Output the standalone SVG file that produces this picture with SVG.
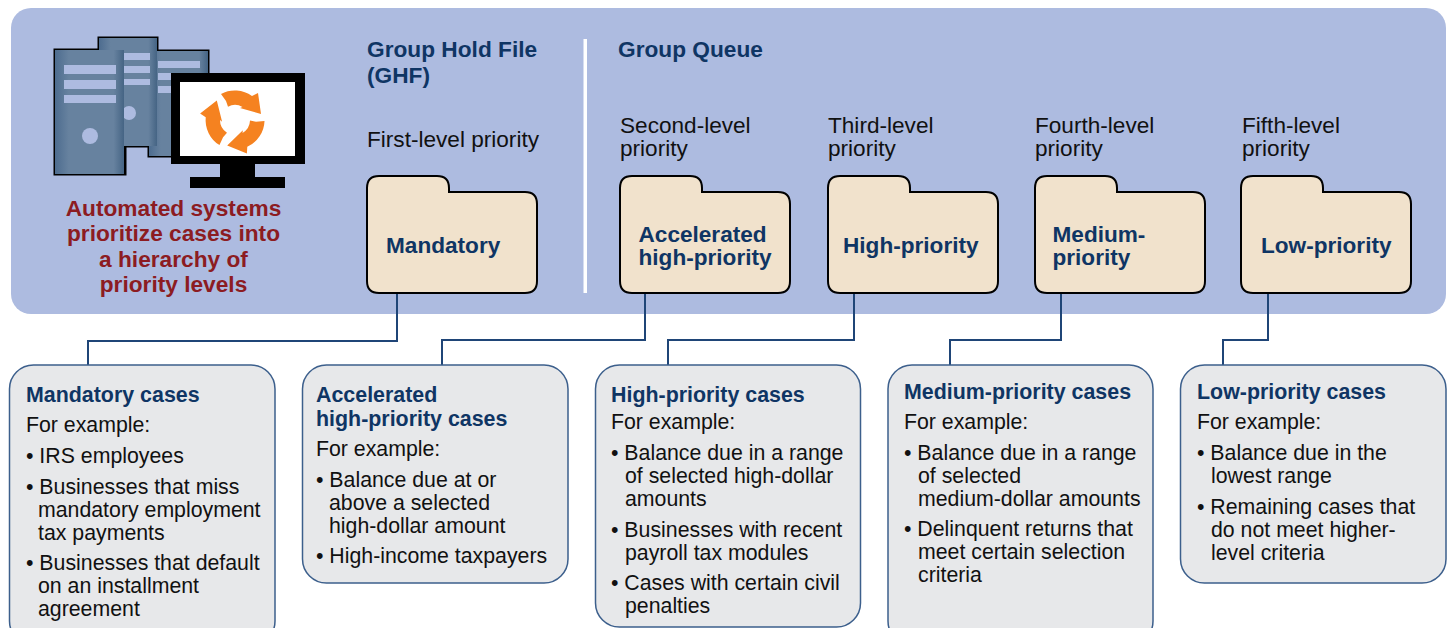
<svg xmlns="http://www.w3.org/2000/svg" width="1448" height="628" viewBox="0 0 1448 628">
<style>
text{font-family:"Liberation Sans",Arial,sans-serif;font-size:21.300px;fill:#111}
.l{font-size:22.600px}
.g{font-weight:700;fill:#0f3564;font-size:22.700px}
.h{font-weight:700;fill:#0f3564;font-size:21.400px}
.f{font-weight:700;fill:#0f3564;font-size:22.600px}
.r{font-weight:700;fill:#8c1c22;font-size:22.700px}
.folder{fill:#f1e2cc;stroke:#000;stroke-width:2}
.box{fill:#e7e8ea;stroke:#3c5f8c;stroke-width:1.500}
.conn{fill:none;stroke:#1f4577;stroke-width:2}
.ol{stroke:#000;stroke-width:3;fill:#000}
.srv{fill:url(#sg)}
.bar{fill:#adbbe0}
</style>
<defs>
<linearGradient id="sg"><stop offset="0" stop-color="#4d6c8f"/><stop offset=".2" stop-color="#67829f"/><stop offset=".85" stop-color="#67829f"/><stop offset="1" stop-color="#456484"/></linearGradient>
<path id="fd" d="M12 0H70Q82 0 82 12V16H158Q170 16 170 28V105Q170 117 158 117H12Q0 117 0 105V12Q0 0 12 0Z"/>
<path id="arw" d="M-14-26A29.500 29.500 0 0 1 17-24L23-27 26-6 5-12 7.500-13A15 15 0 0 0-7-13.300L-9-19Z" fill="#f58220"/>
</defs>
<rect x="11" y="8" width="1435" height="306" rx="20" fill="#adbbe0"/>
<rect x="583.500" y="39" width="3.500" height="254" fill="#fff"/>
<g id="icon">
<rect class="ol" x="149" y="51" width="59" height="105"/>
<rect class="ol" x="99" y="38" width="58" height="108"/>
<rect class="ol" x="55" y="50" width="70" height="124"/>
<rect class="srv" x="149" y="51" width="59" height="105"/>
<rect class="bar" x="158" y="61" width="42" height="7"/><rect class="bar" x="158" y="73" width="20" height="7"/><rect class="bar" x="158" y="86" width="20" height="7"/>
<rect class="srv" x="99" y="38" width="58" height="108"/>
<rect class="bar" x="124" y="53" width="26" height="7"/><rect class="bar" x="124" y="66" width="26" height="7"/><rect class="bar" x="124" y="79" width="26" height="6"/><circle class="bar" cx="129" cy="113" r="7"/>
<rect class="srv" x="55" y="50" width="69" height="124"/>
<rect class="bar" x="64" y="65" width="52" height="9"/><rect class="bar" x="64" y="80" width="52" height="9"/><rect class="bar" x="64" y="95" width="52" height="8"/><circle class="bar" cx="90" cy="136" r="8"/>
<rect x="171" y="73" width="134" height="91" fill="#000"/><rect x="180" y="82" width="115" height="74" fill="#fff"/>
<rect x="220" y="164" width="35" height="13" fill="#000"/><rect x="190" y="177" width="95" height="11" fill="#000"/>
<g transform="translate(235 120)"><use href="#arw"/><use href="#arw" transform="rotate(120)"/><use href="#arw" transform="rotate(240)"/></g>
</g>
<text class="r" text-anchor="middle"><tspan x="173.500" y="216">Automated systems</tspan><tspan x="173.500" y="241">prioritize cases into</tspan><tspan x="173.500" y="267">a hierarchy of</tspan><tspan x="173.500" y="292">priority levels</tspan></text>
<text class="g" x="367" y="57">Group Hold File</text><text class="g" x="367" y="83">(GHF)</text>
<text class="g" x="618" y="57">Group Queue</text>
<text class="l" x="367" y="147">First-level priority</text>
<text class="l" x="620" y="133">Second-level</text><text class="l" x="620" y="156">priority</text>
<text class="l" x="828" y="133">Third-level</text><text class="l" x="828" y="156">priority</text>
<text class="l" x="1035" y="133">Fourth-level</text><text class="l" x="1035" y="156">priority</text>
<text class="l" x="1242" y="133">Fifth-level</text><text class="l" x="1242" y="156">priority</text>
<g id="connectors">
<path class="conn" d="M397 293V341H88V365"/>
<path class="conn" d="M645 293V340H442V365"/>
<path class="conn" d="M854 293V340H668V365"/>
<path class="conn" d="M1061 293V340H950V365"/>
<path class="conn" d="M1268 293V340H1223V365"/>
</g>
<g id="folder-mandatory"><use href="#fd" class="folder" x="367" y="176"/><text class="f" x="386" y="253">Mandatory</text></g>
<g id="folder-accelerated"><use href="#fd" class="folder" x="620" y="176"/><text class="f" x="638.500" y="242">Accelerated</text><text class="f" x="638.500" y="265">high-priority</text></g>
<g id="folder-high"><use href="#fd" class="folder" x="828" y="176"/><text class="f" x="843" y="253">High-priority</text></g>
<g id="folder-medium"><use href="#fd" class="folder" x="1035" y="176"/><text class="f" x="1052.500" y="242">Medium-</text><text class="f" x="1052.500" y="265">priority</text></g>
<g id="folder-low"><use href="#fd" class="folder" x="1241" y="176"/><text class="f" x="1261" y="253">Low-priority</text></g>
<g id="box-mandatory"><rect class="box" x="9.500" y="365" width="265.500" height="280" rx="24"/>
<text class="h" x="26" y="402">Mandatory cases</text>
<text x="26" y="432">For example:</text>
<text x="26" y="463">• IRS employees</text>
<text x="26" y="494">• Businesses that miss</text><text x="38" y="517">mandatory employment</text><text x="38" y="540">tax payments</text>
<text x="26" y="570">• Businesses that default</text><text x="38" y="593">on an installment</text><text x="38" y="616">agreement</text></g>
<g id="box-accelerated"><rect class="box" x="302.500" y="365" width="265.500" height="218" rx="24"/>
<text class="h" x="316" y="402">Accelerated</text><text class="h" x="316" y="426">high-priority cases</text>
<text x="316" y="456">For example:</text>
<text x="316" y="487">• Balance due at or</text><text x="329" y="510">above a selected</text><text x="329" y="533">high-dollar amount</text>
<text x="316" y="563">• High-income taxpayers</text></g>
<g id="box-high"><rect class="box" x="595.500" y="365" width="265" height="262" rx="24"/>
<text class="h" x="611" y="402">High-priority cases</text>
<text x="611" y="429">For example:</text>
<text x="611" y="460">• Balance due in a range</text><text x="625" y="483">of selected high-dollar</text><text x="625" y="506">amounts</text>
<text x="611" y="537">• Businesses with recent</text><text x="625" y="560">payroll tax modules</text>
<text x="611" y="590">• Cases with certain civil</text><text x="625" y="613">penalties</text></g>
<g id="box-medium"><rect class="box" x="888" y="365" width="265" height="280" rx="24"/>
<text class="h" x="904" y="399">Medium-priority cases</text>
<text x="904" y="429">For example:</text>
<text x="904" y="460">• Balance due in a range</text><text x="918" y="483">of selected</text><text x="918" y="506">medium-dollar amounts</text>
<text x="904" y="536">• Delinquent returns that</text><text x="918" y="559">meet certain selection</text><text x="918" y="582">criteria</text></g>
<g id="box-low"><rect class="box" x="1180.500" y="365" width="265.500" height="218" rx="24"/>
<text class="h" x="1197" y="399">Low-priority cases</text>
<text x="1197" y="429">For example:</text>
<text x="1197" y="460">• Balance due in the</text><text x="1211" y="483">lowest range</text>
<text x="1197" y="514">• Remaining cases that</text><text x="1211" y="537">do not meet higher-</text><text x="1211" y="560">level criteria</text></g>
</svg>
